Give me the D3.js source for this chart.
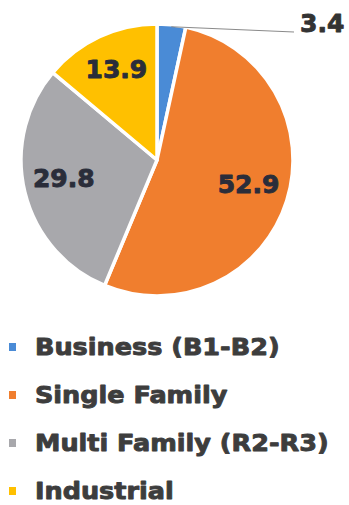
<!DOCTYPE html>
<html>
<head>
<meta charset="utf-8">
<script src="https://cdn.jsdelivr.net/npm/d3@7"></script>
<style>
  html, body { margin: 0; padding: 0; background: #fff; }
  svg { display: block; }
</style>
</head>
<body>
<svg id="chart" width="349" height="505"></svg>
<script>
// Land-use shares (percent)
const categories = ["Business (B1-B2)", "Single Family", "Multi Family (R2-R3)", "Industrial"];
const shares = [3.4, 52.9, 29.8, 13.9];
const colors = ["#4a8bd6", "#f07e2e", "#a8a8ac", "#ffc000"];

const cx = 157, cy = 160, R = 136;

const svg = d3.select("#chart");
const data = categories.map((c, i) => ({ name: c, value: shares[i], color: colors[i] }));

const pie = d3.pie().value(d => d.value).sort(null);
const arcs = pie(data);
const arc = d3.arc().innerRadius(0).outerRadius(R);
const labelArc = d3.arc().innerRadius(96).outerRadius(96);
const edgeArc = d3.arc().innerRadius(R - 2).outerRadius(R - 2);

const g = svg.append("g").attr("transform", `translate(${cx},${cy})`);

g.selectAll("path.slice")
  .data(arcs)
  .join("path")
  .attr("class", "slice")
  .attr("d", arc)
  .attr("fill", d => d.data.color)
  .attr("stroke", "#fff")
  .attr("stroke-width", 3.5)
  .attr("stroke-linejoin", "round");

const fmt = d3.format(".1f");
const isSmall = d => d.data.value < 5;

// heavy bold text: glyph fill plus a thin outline in the same colour
function heavy(sel, color, w) {
  sel.attr("font-family", "DejaVu Sans")
    .attr("font-weight", "bold")
    .attr("fill", color)
    .attr("stroke", color)
    .attr("stroke-width", w)
    .attr("stroke-linejoin", "round");
}

// labels inside the larger slices
g.selectAll("text.inner")
  .data(arcs.filter(d => !isSmall(d)))
  .join("text")
  .attr("class", "inner")
  .attr("x", d => labelArc.centroid(d)[0])
  .attr("y", d => labelArc.centroid(d)[1] - 4)
  .attr("text-anchor", "middle")
  .attr("dominant-baseline", "central")
  .attr("font-size", 25)
  .call(heavy, "#2a2d3a", 0.9)
  .text(d => fmt(d.data.value));

// small slice: leader line and outside label
const small = arcs.filter(isSmall);
const labelX = 300 - cx, labelY = 32 - cy;
g.selectAll("line.leader")
  .data(small)
  .join("line")
  .attr("class", "leader")
  .attr("x1", d => edgeArc.centroid(d)[0])
  .attr("y1", d => edgeArc.centroid(d)[1])
  .attr("x2", labelX - 6)
  .attr("y2", labelY)
  .attr("stroke", "#8a8a8a")
  .attr("stroke-width", 1);

g.selectAll("text.outer")
  .data(small)
  .join("text")
  .attr("class", "outer")
  .attr("x", labelX)
  .attr("y", labelY)
  .attr("font-size", 25)
  .call(heavy, "#333", 0.9)
  .text(d => fmt(d.data.value));

// legend
const ly = d3.scaleLinear().domain([0, 3]).range([355, 499]);
const legend = svg.append("g");
const items = legend.selectAll("g.item")
  .data(data)
  .join("g")
  .attr("class", "item")
  .attr("transform", (d, i) => `translate(0,${ly(i)})`);

items.append("rect")
  .attr("x", 9)
  .attr("y", -12)
  .attr("width", 7)
  .attr("height", 8)
  .attr("fill", d => d.color);

items.append("text")
  .attr("transform", "translate(35,0) scale(1.11,1)")
  .attr("font-size", 23)
  .call(heavy, "#3d3d3d", 0.9)
  .text(d => d.name);
</script>
</body>
</html>
